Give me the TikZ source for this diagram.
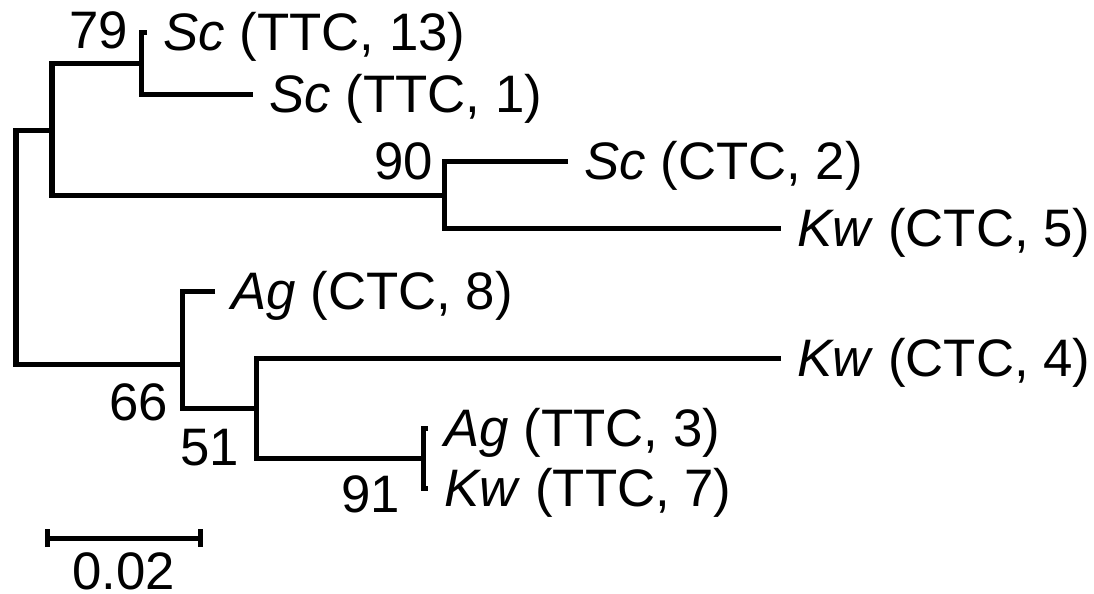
\documentclass[tikz,border=0pt]{standalone}
\usepackage{fontspec}
\setmainfont{Liberation Sans}
\usetikzlibrary{arrows.meta}

\begin{document}
\begin{tikzpicture}[x=0.01cm, y=-0.01cm, line width=0.05cm, font=\fontsize{15}{18}\selectfont]
        \tikzstyle{leaf}=[anchor=west, inner xsep=0.14cm, inner ysep=0pt, text height=10.7pt, text depth=0pt]
        \tikzstyle{boot}=[inner sep=0pt, text height=10.7pt, text depth=0pt]

        \useasboundingbox (0,0) rectangle (1094,593);

        % leaves
        \node[leaf] (sc13) at (147,32) {\textit{Sc} (TTC, 13)};
        \node[leaf] (sc1) at (253,94) {\textit{Sc} (TTC, 1)};
        \node[leaf] (sc2) at (568,161) {\textit{Sc} (CTC, 2)};
        \node[leaf] (kw5) at (781,228) {\textit{Kw} (CTC, 5)};
        \node[leaf] (ag8) at (215,291) {\textit{Ag} (CTC, 8)};
        \node[leaf] (kw4) at (781,358) {\textit{Kw} (CTC, 4)};
        \node[leaf] (ag3) at (428,428) {\textit{Ag} (TTC, 3)};
        \node[leaf] (kw7) at (428,488) {\textit{Kw} (TTC, 7)};

        % internal nodes
        \coordinate (n79) at (141,63);
        \coordinate (n90) at (444,195);
        \coordinate (nsc) at (52,130);
        \coordinate (n91) at (423,458);
        \coordinate (n51) at (256,408);
        \coordinate (n66) at (182,364);
        \coordinate (root) at (16,247);

        \draw (sc13.west) -| (n79) |- (sc1.west);
        \draw (sc2.west) -| (n90) |- (kw5.west);
        \draw (n79) -| (nsc) |- (n90);
        \draw (ag3.west) -| (n91) |- (kw7.west);
        \draw (kw4.west) -| (n51) |- (n91);
        \draw (ag8.west) -| (n66) |- (n51);
        \draw (nsc) -| (root) |- (n66);

        % bootstrap values
        \node[boot] (b79) at (99,30) {79};
        \node[boot] (b90) at (404,161) {90};
        \node[boot] (b66) at (139,402) {66};
        \node[boot] (b51) at (210,447) {51};
        \node[boot] (b91) at (371,494) {91};

        % scale bar
        \coordinate (bar0) at (45,538);
        \coordinate (bar1) at (203,538);
        \draw[{Bar[width=0.18cm]}-{Bar[width=0.18cm]}] (bar0) -- (bar1);
        \node[boot] (scale) at (124,571) {0.02};
    \end{tikzpicture}
\end{document}
